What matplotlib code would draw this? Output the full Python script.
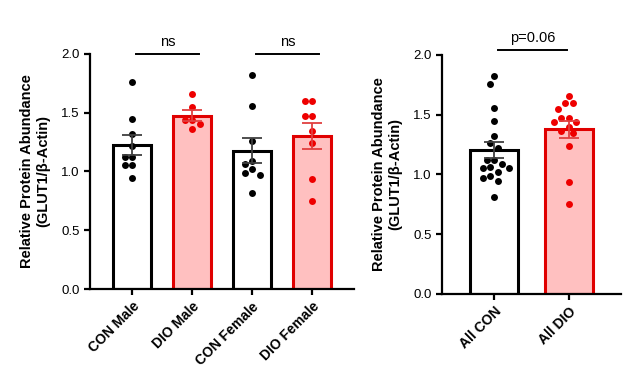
import numpy as np
import matplotlib
matplotlib.use("Agg")
import matplotlib.pyplot as plt

plt.rcParams['font.family'] = ['Liberation Sans', 'DejaVu Sans']

# values
con_male = [1.76, 1.45, 1.32, 1.22, 1.12, 1.12, 1.055, 1.055, 0.945]
dio_male = [1.66, 1.55, 1.44, 1.44, 1.40, 1.36]
con_female = [1.82, 1.56, 1.26, 1.09, 1.065, 1.02, 0.99, 0.97, 0.815]
dio_female = [1.60, 1.60, 1.475, 1.475, 1.345, 1.24, 0.94, 0.75]

left_labels = ["CON Male", "DIO Male", "CON Female", "DIO Female"]
right_labels = ["All CON", "All DIO"]
left_stats = ["ns", "ns"]
right_stat = "p=0.06"

all_con = con_male + con_female
all_dio = dio_male + dio_female

RED = "#e00000"
PINK = "#ffc0c0"


def swarm(vals, xpx, ypx, diam=7.5):
    # simple beeswarm: offsets in data units
    vals = np.asarray(vals)
    order = np.argsort(vals)[::-1]
    placed = []
    offs = np.zeros(len(vals))
    for i in order:
        y = vals[i] * ypx
        for k in range(0, 20):
            cands = [0.0] if k == 0 else [-k * diam / 2, k * diam / 2]
            ok = None
            for c in cands:
                if all((c - px) ** 2 + (y - py) ** 2 >= (diam * 0.98) ** 2 for px, py in placed):
                    ok = c
                    break
            if ok is not None:
                break
        placed.append((ok, y))
        offs[i] = ok / xpx
    return offs


def draw_groups(ax, groups, xpx, ypx, width):
    for i, g in enumerate(groups):
        dio = i % 2 == 1
        ec = RED if dio else "black"
        fc = PINK if dio else "white"
        dot = "#ee0000" if dio else "black"
        erc = "#e04040" if dio else "#404040"
        g = np.array(g)
        m = g.mean()
        sem = g.std(ddof=1) / np.sqrt(len(g))
        ax.bar(i, m, width=width, facecolor=fc, edgecolor=ec, linewidth=2.2, zorder=1)
        ax.scatter(i + swarm(g, xpx, ypx), g, s=25, color=dot, zorder=3, linewidths=0)
        ax.errorbar(i, m, yerr=sem, color=erc, capsize=7, capthick=1.3, elinewidth=1.3, zorder=4)


def style(ax, labels):
    ax.set_ylim(0, 2.0)
    ax.set_yticks([0, 0.5, 1.0, 1.5, 2.0])
    ax.set_yticklabels(["0.0", "0.5", "1.0", "1.5", "2.0"])
    ax.spines['top'].set_visible(False)
    ax.spines['right'].set_visible(False)
    ax.spines['left'].set_linewidth(1.6)
    ax.spines['bottom'].set_linewidth(1.6)
    ax.tick_params(width=1.6, length=4, labelsize=9.5)
    ax.set_xticks(range(len(labels)))
    ax.set_xticklabels(labels, rotation=45, ha='right', rotation_mode='anchor',
                       fontweight='bold', fontsize=10)
    ax.set_ylabel("Relative Protein Abundance\n(GLUT1/β-Actin)", fontweight='bold',
                  fontsize=10.5, labelpad=8)


fig = plt.figure(figsize=(6.43, 3.69), dpi=100)

ax1 = fig.add_axes([0.140, 0.2168, 0.4106, 0.637])
ax1.set_xlim(-0.70, 3.70)
draw_groups(ax1, [con_male, dio_male, con_female, dio_female], 60, 117.5, 0.63)
style(ax1, left_labels)
for j, s in enumerate(left_stats):
    x0, x1 = 2 * j + 0.07, 2 * j + 1.12
    ax1.plot([x0, x1], [2.0, 2.0], color='black', lw=1.4, clip_on=False)
    ax1.text((x0 + x1) / 2, 2.04, s, ha='center', va='bottom', fontsize=10.5)

ax2 = fig.add_axes([0.6874, 0.2033, 0.2784, 0.6477])
ax2.set_xlim(-0.70, 1.70)
draw_groups(ax2, [all_con, all_dio], 74.6, 119.5, 0.64)
style(ax2, right_labels)
ax2.plot([0.05, 0.98], [2.045, 2.045], color='black', lw=1.4, clip_on=False)
ax2.text(0.515, 2.08, right_stat, ha='center', va='bottom', fontsize=10.5)

fig.savefig("out.png", dpi=100)
